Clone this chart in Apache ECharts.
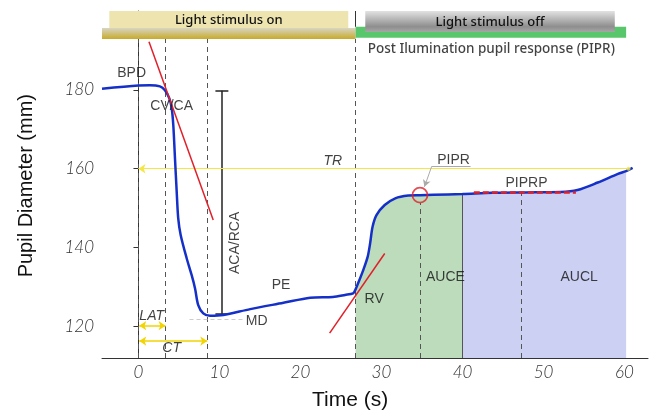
<!DOCTYPE html>
<html>
<head>
<meta charset="utf-8">
<script src="https://cdn.jsdelivr.net/npm/echarts@6/dist/echarts.min.js"></script>
<style>
  html, body { margin: 0; padding: 0; background: #fff; }
  #main { width: 654px; height: 412px; }
</style>
</head>
<body>
<div id="main"></div>
<script>
// axis ticks
var timeTicks = [0, 10, 20, 30, 40, 50, 60];
var diamTicks = [120, 140, 160, 180];

// pupil trace
var pupilTime = [-4.5, 0, 1.4, 2.65, 3.27, 3.8, 4.1, 4.3, 4.51, 4.72, 4.91, 5.21, 5.95, 6.57, 6.98, 7.38, 8.0, 8.83, 10.47,
  13.8, 17.9, 21.2, 24.0, 25.5, 26.5, 26.8, 27.1, 27.75, 28.3, 28.6, 28.9, 29.4, 30.4, 31.7, 33.3, 34.75, 36.4,
  40.0, 43.7, 47.7, 52.1, 54.2, 56.7, 59.2, 60.2, 61.0];
var pupilDiam = [180.3, 181.1, 181.2, 180.9, 179.9, 177.9, 175.4, 171.1, 162.6, 154.2, 147.4, 143.2, 137.3, 133.0, 129.7, 125.4, 123.3, 122.7, 122.9,
  124.4, 126.0, 127.3, 127.5, 128.0, 128.4, 129.4, 130.9, 134.3, 137.7, 141.1, 145.3, 148.3, 150.8, 152.5, 153.2, 153.3, 153.4,
  153.6, 153.9, 154.0, 154.1, 154.6, 156.5, 158.7, 159.4, 160.2];

// key times (s)
var lightOff = 26.8;
var earlyEnd = 40;
var lateEnd = 60.2;
var onsetTimes = [0, 3.35, 8.5];      // stimulus onset, latency end, constriction end
var piprTime = 34.75, piprDiam = 153.3;
var piprpTime = 47.3, piprpDiam = 154.0;
var piprpSpan = [41.4, 54.0];

// measures
var trDiam = 160;
var acaTime = 10.3, acaTop = 179.8, acaBottom = 123.2;
var mdDiam = 121.9, mdSpan = [6.3, 12.9];
var latDiam = 120.2, ctDiam = 116.3;
var cvLine = [[1.3, 192.2], [9.23, 147.0]];
var rvLine = [[23.6, 118.3], [30.4, 138.5]];

var yMin = 112, yMax = 200, xMin = -4.5, xMax = 62.9;

var chartDom = document.getElementById('main');
var chart = echarts.init(chartDom, null, { renderer: 'canvas' });

var trace = pupilTime.map(function (t, i) { return [t, pupilDiam[i]]; });
var early = trace.filter(function (p) { return p[0] >= lightOff && p[0] <= earlyEnd; });
var late = trace.filter(function (p) { return p[0] >= earlyEnd && p[0] <= lateEnd; });
function diamAt(t) {
  for (var i = 0; i < pupilTime.length; i++) { if (pupilTime[i] >= t) return pupilDiam[i]; }
  return pupilDiam[pupilDiam.length - 1];
}

function seg(a, b, style, syms) {
  return [
    { coord: a, symbol: syms ? syms[0] : 'none', lineStyle: style },
    { coord: b, symbol: syms ? syms[1] : 'none' }
  ];
}
var dash = { color: '#555', type: [5, 4], width: 1 };
var red = { color: '#e0202a', type: 'solid', width: 1.5 };
var yel = { color: '#f2d400', type: 'solid', width: 1.5 };
var blk = { color: '#222', type: 'solid', width: 1.5 };

var lines = [];
onsetTimes.forEach(function (t) { lines.push(seg([t, yMin], [t, 192.9], dash)); });
lines.push(seg([lightOff, yMin], [lightOff, 192.9], dash));
lines.push(seg([lightOff, 196], [lightOff, yMax], { color: '#333', type: 'solid', width: 1 }));
lines.push(seg([piprTime, yMin], [piprTime, piprDiam - 2], dash));
lines.push(seg([piprpTime, yMin], [piprpTime, piprpDiam], dash));
lines.push(seg([earlyEnd, yMin], [earlyEnd, diamAt(earlyEnd)], { color: '#555', type: 'solid', width: 1 }));
lines.push(seg([mdSpan[0], mdDiam], [mdSpan[1], mdDiam], { color: '#ccc', type: [4, 3], width: 1 }));
lines.push(seg([acaTime, acaBottom], [acaTime, acaTop], blk));
lines.push(seg([acaTime - 0.8, acaTop], [acaTime + 0.8, acaTop], blk));
lines.push(seg([acaTime - 0.8, acaBottom], [acaTime + 0.8, acaBottom], blk));
lines.push(seg([0, trDiam], [61, trDiam], { color: '#f3e645', type: 'solid', width: 1 }, ['arrow', 'none']));
lines.push(seg([0.1, latDiam], [onsetTimes[1], latDiam], yel, ['arrow', 'arrow']));
lines.push(seg([0.1, ctDiam], [onsetTimes[2], ctDiam], yel, ['arrow', 'arrow']));

var topLines = [];
topLines.push(seg(cvLine[0], cvLine[1], red));
topLines.push(seg(rvLine[0], rvLine[1], red));
topLines.push(seg([piprpSpan[0], piprpDiam], [piprpSpan[1], piprpDiam], { color: '#e0202a', type: [6, 3], width: 2.5 }));
topLines.push(seg([41.0, 160.6], [36.2, 160.6], { color: '#aaa', type: 'solid', width: 1 }));
topLines.push(seg([36.2, 160.6], [35.3, 155.4], { color: '#aaa', type: 'solid', width: 1 }, ['none', 'arrow']));

// bands across the top: [t0, t1, vBottom, vTop, kind]
var bands = [
  [xMin, lightOff, 192.9, 195.7, 0],
  [lightOff, lateEnd, 193.2, 196.0, 1],
  [-3.6, 25.9, 195.7, 200, 2],
  [28.0, 58.8, 194.7, 200, 3]
];
var bandText = ['', '', 'Light stimulus on', 'Light stimulus off'];
var bandFill = [
  new echarts.graphic.LinearGradient(0, 0, 0, 1, [{ offset: 0, color: '#d8d5c4' }, { offset: 1, color: '#c8aa2a' }]),
  '#58c66a',
  '#ede4b0',
  new echarts.graphic.LinearGradient(0, 0, 0, 1, [{ offset: 0, color: '#e2e2e2' }, { offset: 0.75, color: '#8e8e8e' }, { offset: 1, color: '#a6a6a6' }])
];

var notes = [
  ['BPD', -0.84, 184.2, {}],
  ['CV/CA', 4.1, 175.9, {}],
  ['ACA/RCA', 11.9, 141.2, { rotate: 90 }],
  ['TR', 24.0, 162.0, { fontStyle: 'italic' }],
  ['PE', 17.6, 130.5, {}],
  ['MD', 14.6, 121.4, {}],
  ['LAT', 1.63, 122.7, { fontStyle: 'italic' }],
  ['CT', 4.1, 114.5, { fontStyle: 'italic' }],
  ['RV', 29.1, 126.9, {}],
  ['PIPR', 38.9, 162.1, {}],
  ['PIPRP', 47.9, 156.4, {}],
  ['AUCE', 37.9, 132.5, {}],
  ['AUCL', 54.4, 132.5, {}],
  ['Post Ilumination pupil response (PIPR)', 28.3, 190.4, { align: 'left', fontFamily: 'Noto Sans', fontSize: 13.5, fontWeight: 500, color: '#111' }]
];

var option = {
  animation: false,
  grid: { left: 102, right: 6, top: 11, bottom: 54, outerBoundsMode: 'none' },
  xAxis: {
    type: 'value', min: xMin, max: xMax,
    axisLine: { lineStyle: { color: '#333' } },
    axisTick: { show: false },
    splitLine: { show: false },
    axisLabel: {
      customValues: timeTicks, margin: 6,
      fontFamily: 'Lato', fontStyle: 'italic', fontWeight: 300, fontSize: 17, color: '#333'
    }
  },
  yAxis: {
    type: 'value', min: yMin, max: yMax,
    axisLine: { show: true, lineStyle: { color: '#333' } },
    axisTick: { show: true, customValues: diamTicks, length: 5, lineStyle: { color: '#333' } },
    splitLine: { show: false },
    axisLabel: {
      customValues: diamTicks, margin: 8,
      fontFamily: 'Lato', fontStyle: 'italic', fontWeight: 300, fontSize: 17, color: '#333'
    }
  },
  graphic: [
    { type: 'text', left: 16, top: 94, rotation: Math.PI / 2, style: { text: 'Pupil Diameter (mm)', fontFamily: 'Liberation Sans', fontSize: 20, fill: '#111' }, x: 16, y: 290 },
    { type: 'text', left: 312, top: 390, style: { text: 'Time (s)', fontFamily: 'Liberation Sans', fontSize: 21, fill: '#111' } }
  ],
  series: [
    {
      name: 'AUCE', type: 'line', data: early, smooth: 0.3, symbol: 'none',
      lineStyle: { width: 0 }, areaStyle: { color: '#bcdcbc', opacity: 1, origin: 'start' }, z: 1
    },
    {
      name: 'AUCL', type: 'line', data: late, smooth: 0.3, symbol: 'none',
      lineStyle: { width: 0 }, areaStyle: { color: '#ccd0f3', opacity: 1, origin: 'start' }, z: 1
    },
    {
      name: 'bands', type: 'custom', data: bands, clip: false, z: 2,
      renderItem: function (params, api) {
        var k = api.value(4);
        var p0 = api.coord([api.value(0), api.value(3)]);
        var p1 = api.coord([api.value(1), api.value(2)]);
        return {
          type: 'group',
          children: [
            { type: 'rect', shape: { x: p0[0], y: p0[1], width: p1[0] - p0[0], height: p1[1] - p0[1] }, style: { fill: bandFill[k] } },
            { type: 'text', style: { text: bandText[k], x: (p0[0] + p1[0]) / 2, y: (p0[1] + p1[1]) / 2 + 1, align: 'center', verticalAlign: 'middle', fontFamily: 'Noto Sans', fontSize: 13, fontWeight: 500, fill: '#111' } }
          ]
        };
      }
    },
    {
      name: 'guides', type: 'line', data: [], z: 3,
      markLine: { silent: true, z: 3, symbolSize: [7, 7], label: { show: false }, data: lines, animation: false }
    },
    {
      name: 'pupil', type: 'line', data: trace, smooth: 0.3, symbol: 'none',
      lineStyle: { color: '#1530c8', width: 2.5 }, z: 5
    },
    {
      name: 'tangents', type: 'line', data: [], z: 10,
      markLine: { silent: true, z: 10, symbolSize: [6, 7], label: { show: false }, data: topLines, animation: false }
    },
    {
      name: 'pipr', type: 'scatter', z: 11,
      data: [{ value: [piprTime, piprDiam], symbolSize: 15, itemStyle: { color: 'rgba(0,0,0,0)', borderColor: '#e0202a', borderWidth: 1.8 } },
             { value: [60.5, trDiam], symbolSize: 4, itemStyle: { color: '#f3e645' } }]
    },
    {
      name: 'notes', type: 'scatter', symbolSize: 0, z: 12, silent: true,
      data: notes.map(function (n) {
        return {
          value: [n[1], n[2]],
          label: Object.assign({
            show: true, position: 'inside', formatter: n[0],
            fontFamily: 'Liberation Sans', fontSize: 14, color: '#111'
          }, n[3])
        };
      })
    }
  ]
};
chart.setOption(option);
</script>
</body>
</html>
